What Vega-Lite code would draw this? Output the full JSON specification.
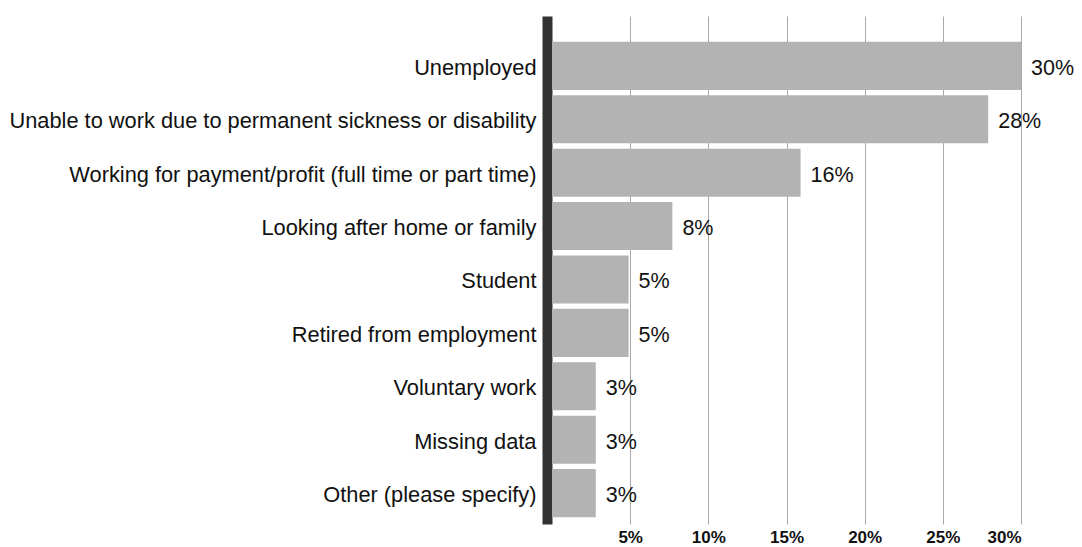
{
  "$schema": "https://vega.github.io/schema/vega-lite/v6.json",
  "autosize": "none",
  "width": 469,
  "height": 508,
  "padding": {"left": 552, "top": 16, "right": 61, "bottom": 23},
  "background": "white",
  "config": {
    "font": "Liberation Sans",
    "view": {"stroke": null}
  },
  "data": {
    "values": [
      {"status": "Unemployed", "share": 0.300},
      {"status": "Unable to work due to permanent sickness or disability", "share": 0.279},
      {"status": "Working for payment/profit (full time or part time)", "share": 0.159},
      {"status": "Looking after home or family", "share": 0.077},
      {"status": "Student", "share": 0.049},
      {"status": "Retired from employment", "share": 0.049},
      {"status": "Voluntary work", "share": 0.028},
      {"status": "Missing data", "share": 0.028},
      {"status": "Other (please specify)", "share": 0.028}
    ]
  },
  "encoding": {
    "y": {
      "field": "status",
      "type": "nominal",
      "sort": null,
      "title": null,
      "scale": {"paddingInner": 0.1, "paddingOuter": 0.3065, "align": 0.79},
      "axis": {
        "offset": 5,
        "domainWidth": 10,
        "domainColor": "#333333",
        "domainCap": "butt",
        "ticks": false,
        "tickSize": 0,
        "labelPadding": 11,
        "labelFontSize": 21.8,
        "labelColor": "#111111",
        "labelLimit": 700,
        "labelFont": "Liberation Sans",
        "labelBaseline": "middle",
        "labelOffset": 2,
        "grid": false
      }
    },
    "x": {
      "field": "share",
      "type": "quantitative",
      "title": null,
      "scale": {"domain": [0, 0.30], "nice": false, "zero": true},
      "axis": {
        "values": [0.05, 0.10, 0.15, 0.20, 0.25, 0.30],
        "format": ".0%",
        "domain": false,
        "ticks": false,
        "grid": true,
        "gridColor": "#a9a9a9",
        "gridWidth": 1,
        "labelFontWeight": "bold",
        "labelFontSize": 17,
        "labelColor": "#111111",
        "labelPadding": 5,
        "labelFont": "Liberation Sans"
      }
    }
  },
  "layer": [
    {
      "mark": {"type": "bar", "color": "#b3b3b3"}
    },
    {
      "mark": {"type": "text", "align": "left", "baseline": "middle", "dx": 10, "dy": 3, "fontSize": 21.5, "color": "#111111"},
      "encoding": {
        "text": {"field": "share", "type": "quantitative", "format": ".0%"}
      }
    }
  ]
}
